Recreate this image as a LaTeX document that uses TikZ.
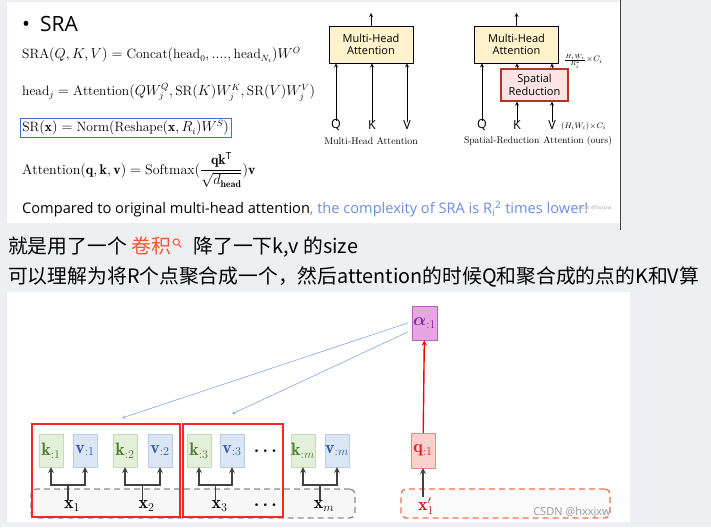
\documentclass[tikz,border=0pt]{standalone}
\usepackage{amsmath}
\usepackage{amssymb}
\usepackage{fontspec}
\setsansfont{Open Sans}
\newfontfamily\cjk{Noto Sans CJK SC}
\usepackage{xcolor}
\usetikzlibrary{shapes,arrows,positioning,calc,arrows.meta}
\definecolor{pagebg}{HTML}{EEEFF3}
\definecolor{mhafill}{HTML}{FFF2CC}
\definecolor{srfill}{HTML}{FCE4E4}
\definecolor{srline}{HTML}{B8322A}
\definecolor{eqblue}{HTML}{4472C4}
\definecolor{txtblue}{HTML}{6A8FD8}
\definecolor{kfill}{HTML}{E2EFDA}
\definecolor{kline}{HTML}{C6DBB2}
\definecolor{ktext}{HTML}{4E7A2E}
\definecolor{vfill}{HTML}{DAE5F5}
\definecolor{vline}{HTML}{B7CBEA}
\definecolor{vtext}{HTML}{2F5AA8}
\definecolor{afill}{HTML}{E8A6E0}
\definecolor{aline}{HTML}{B366B3}
\definecolor{atext}{HTML}{7030A0}
\definecolor{qfill}{HTML}{F8D0CE}
\definecolor{qline}{HTML}{EC8A88}
\definecolor{qtext}{HTML}{E02020}
\definecolor{grpred}{HTML}{FF2424}
\definecolor{dashgray}{HTML}{8C8C8C}
\definecolor{dashred}{HTML}{F07050}
\definecolor{csdnred}{HTML}{FC5531}
\definecolor{fork}{HTML}{404040}
\tikzstyle{arrow} = [->, >=stealth, thick]
\tikzstyle{mha} = [rectangle, draw, thick, fill=mhafill, minimum width=84pt, minimum height=37pt, align=center, inner sep=1pt, font=\sffamily\fontsize{11}{12.5}\selectfont]
\tikzstyle{srbox} = [rectangle, draw=srline, very thick, fill=srfill, minimum width=67pt, minimum height=32pt, align=center, inner sep=1pt, font=\sffamily\fontsize{11}{12.5}\selectfont]
\tikzstyle{kbox} = [rectangle, draw=kline, fill=kfill, minimum width=24pt, minimum height=33pt, inner sep=0pt, text=ktext, font=\fontsize{18}{19}\selectfont]
\tikzstyle{vbox} = [rectangle, draw=vline, fill=vfill, minimum width=24pt, minimum height=33pt, inner sep=0pt, text=vtext, font=\fontsize{18}{19}\selectfont]
\tikzstyle{group} = [rectangle, draw=grpred, line width=1.2pt, minimum height=93pt]
\tikzstyle{lbl} = [inner sep=1pt, font=\sffamily\fontsize{12.5}{13}\selectfont]
\tikzstyle{eq} = [anchor=west, inner sep=0pt, font=\fontsize{13.5}{15}\selectfont]

\begin{document}
\begin{tikzpicture}[x=1pt, y=-1pt]
    % page and panels
    \fill[pagebg] (0,0) rectangle (711,527);
    \useasboundingbox (0,0) rectangle (711,527);
    \fill[white] (7,2) rectangle (620,223);
    \draw[fork, line width=1pt] (620.5,0) -- (620.5,230);
    \fill[white] (7,292) rectangle (630,522);

    % slide text
    \node[anchor=west, inner sep=0pt, font=\sffamily\fontsize{21}{22}\selectfont] (title) at (22,24) {\textbullet\hspace{10pt}SRA};
    \node[eq] (eqsra) at (22,55)
        {$\mathrm{SRA}(Q,K,V)=\mathrm{Concat}(\mathrm{head}_0,....,\mathrm{head}_{N_i})W^O$};
    \node[eq] (eqhead) at (22,92)
        {$\mathrm{head}_j=\mathrm{Attention}(QW_j^Q,\mathrm{SR}(K)W_j^K,\mathrm{SR}(V)W_j^V)$};
    \node[eq, draw=eqblue, thick, inner sep=2pt] (eqsr) at (20,128)
        {$\mathrm{SR}(\mathbf{x})=\mathrm{Norm}(\mathrm{Reshape}(\mathbf{x},R_i)W^S)$};
    \node[eq, font=\fontsize{14}{15}\selectfont] (eqatt) at (22,170)
        {$\mathrm{Attention}(\mathbf{q},\mathbf{k},\mathbf{v})=\mathrm{Softmax}(\dfrac{\mathbf{q}\mathbf{k}^{\mathsf{T}}}{\sqrt{d_{\mathbf{head}}}})\mathbf{v}$};
    \node[anchor=west, inner sep=0pt, font=\sffamily\fontsize{14.6}{16}\selectfont] (note) at (22,209)
        {Compared to original multi-head attention\textcolor{txtblue}{, the complexity of SRA is R\textsubscript{i}\textsuperscript{2} times lower!}};
    \node[text=gray!70, inner sep=0pt, font=\sffamily\fontsize{5}{6}\selectfont] (wm1) at (594,208) {CSDN @hxxjxw};

    % multi-head attention
    \node[mha] (mhaA) at (371,44.5) {Multi-Head\\Attention};
    \coordinate (outA) at (371,13);
    \node[lbl] (qA) at (336,125) {Q};
    \node[lbl] (kA) at (372,125) {K};
    \node[lbl] (vA) at (407,125) {V};
    \draw[arrow] (mhaA) -- (outA);
    \foreach \n in {qA,kA,vA}
        \draw[arrow] ([yshift=-3pt]\n.north) -- (\n.north |- mhaA.south);
    \node[font=\fontsize{9.8}{10}\selectfont] (capA) at (371,141) {Multi-Head Attention};

    % spatial-reduction attention
    \node[mha] (mhaB) at (516.5,44.5) {Multi-Head\\Attention};
    \coordinate (outB) at (516.5,13);
    \node[srbox] (srB) at (534.5,85) {Spatial\\Reduction};
    \node[lbl] (qB) at (482,125) {Q};
    \node[lbl] (kB) at (517,125) {K};
    \node[lbl] (vB) at (552,125) {V};
    \draw[arrow] (mhaB) -- (outB);
    \draw[arrow] ([yshift=-3pt]qB.north) -- (qB.north |- mhaB.south);
    \foreach \n in {kB,vB} {
        \draw[arrow] ([yshift=-3pt]\n.north) -- (\n.north |- srB.south);
        \draw[arrow] (srB.north -| \n) -- (mhaB.south -| \n);
    }
    \node[font=\fontsize{8}{9}\selectfont, inner sep=0pt, anchor=west] (hwr) at (564,61) {$\frac{H_iW_i}{R_i^2}\!\times\! C_i$};
    \node[font=\fontsize{8}{9}\selectfont, inner sep=0pt, anchor=west] (hw) at (561,126) {$(H_iW_i)\!\times\! C_i$};
    \node[font=\fontsize{9.6}{10}\selectfont] (capB) at (538,141) {Spatial-Reduction\hspace{4pt}Attention (ours)};

    % blog text
    \node[anchor=west, inner sep=0pt, font=\cjk\fontsize{19.8}{21}\selectfont] (line1a) at (8,246)
        {就是用了一个 \textcolor{csdnred}{卷积}};
    \node[anchor=base west, inner sep=0pt, font=\cjk\fontsize{19.8}{21}\selectfont] (line1b) at ([xshift=22pt]line1a.base east)
        {降了一下k,v 的size};
    \draw[csdnred, line width=1pt] ($(line1a.east)+(5,-4)$) circle (3.2pt) ($(line1a.east)+(7.3,-1.5)$) -- ($(line1a.east)+(10,1.5)$);
    \node[anchor=west, inner sep=0pt, font=\cjk\fontsize{19.8}{21}\selectfont] (line2) at (8,277)
        {可以理解为将R个点聚合成一个，然后attention的时候Q和聚合成的点的K和V算};

    % inputs row
    \node[rectangle, draw=dashgray, dash pattern=on 6pt off 4pt, line width=1.3pt, rounded corners=5pt, fill=gray!6, minimum width=324pt, minimum height=29pt] (rowx) at (193,503.5) {};
    \node[rectangle, draw=dashred, dash pattern=on 6pt off 4pt, line width=1.3pt, rounded corners=5pt, fill=gray!4, minimum width=209pt, minimum height=29pt] (rowq) at (505.5,503.5) {};
    \node[group, minimum width=148pt] (grp1) at (106,470.5) {};
    \node[group, minimum width=100pt] (grp2) at (233,470.5) {};

    % keys and values
    \foreach \i/\xk/\xv in {1/51/85, 2/125/160, 3/199/232, m/303/337} {
        \node[kbox] (k\i) at (\xk,450.5) {$\mathbf{k}_{:\i}$};
        \node[vbox] (v\i) at (\xv,450.5) {$\mathbf{v}_{:\i}$};
        \coordinate (j\i) at ($(\xk,485)!0.5!(\xv,485)$);
        \node[font=\fontsize{18}{19}\selectfont, inner sep=0.5pt] (x\i) at ($(j\i)+(4,21)$) {$\mathbf{x}_{\i}$};
        \draw[fork, line width=1.5pt] (j\i) -- (j\i |- x\i.north);
        \draw[arrow, fork, line width=1.5pt] (j\i) -| (k\i);
        \draw[arrow, fork, line width=1.5pt] (j\i) -| (v\i);
    }
    \node[font=\fontsize{16}{17}\selectfont] (dotsk) at (267,451) {$\boldsymbol{\cdots}$};
    \node[font=\fontsize{16}{17}\selectfont] (dotsx) at (267,505) {$\boldsymbol{\cdots}$};

    % query and attention weights
    \node[rectangle, draw=qline, fill=qfill, minimum width=24pt, minimum height=35pt, inner sep=0pt, text=qtext, font=\fontsize{18}{19}\selectfont] (q1) at (423,450.5) {$\mathbf{q}_{:1}$};
    \node[text=qtext!85!black, font=\fontsize{18}{19}\selectfont, inner sep=0.5pt] (xq) at (426,506) {$\mathbf{x}'_1$};
    \node[rectangle, draw=aline, fill=afill, minimum width=25pt, minimum height=34pt, inner sep=0pt, text=atext, font=\fontsize{18}{19}\selectfont] (alpha) at (424.5,323) {$\boldsymbol{\alpha}_{:1}$};
    \draw[arrow, fork, line width=1.5pt] (xq.north -| q1) -- (q1);
    \draw[arrow, red, line width=1.4pt] (q1) -- (alpha);
    \coordinate (t1) at (122,418);
    \coordinate (t2) at (232,414);
    \draw[->, >=stealth, txtblue!80, line width=0.6pt] ([xshift=-4pt]alpha.west) -- (t1);
    \draw[->, >=stealth, txtblue!80, line width=0.6pt] ([xshift=-4pt,yshift=-9pt]alpha.west) -- (t2);
    \node[text=gray!80, font=\sffamily\fontsize{11}{12}\selectfont] (wm2) at (572,513) {CSDN @hxxjxw};
\end{tikzpicture}
\end{document}
